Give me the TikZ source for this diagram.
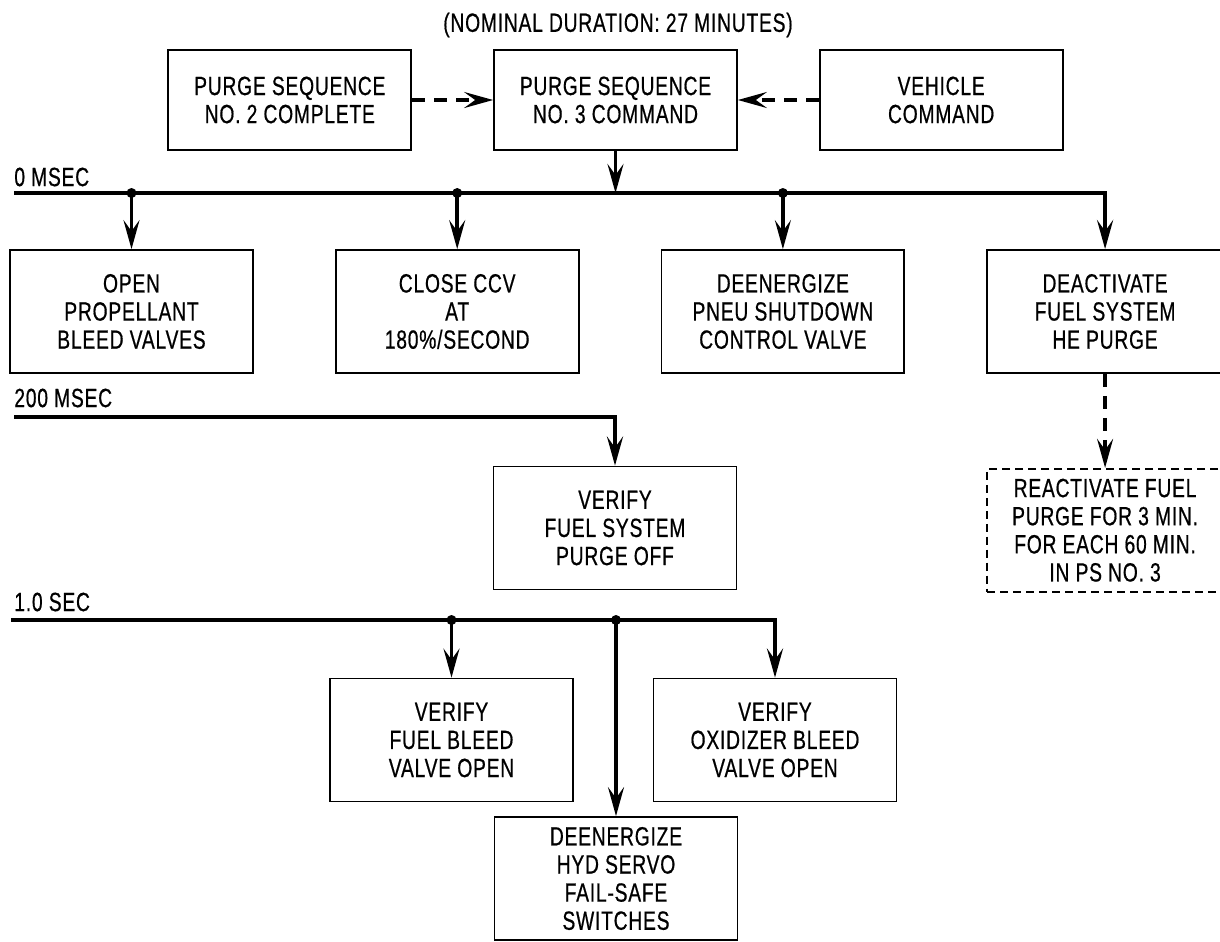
\documentclass[tikz,border=0pt]{standalone}
\usepackage{fontspec}
\setmainfont{Liberation Sans}[FakeStretch=0.73, FakeBold=0.6, LetterSpace=3]
\usepackage{tikz}
\usetikzlibrary{arrows.meta,positioning}

\begin{document}
\begin{tikzpicture}[
            x=0.02cm, y=-0.02cm,
            node distance=1.62cm,
            font=\fontsize{15}{16}\selectfont,
            block/.style={rectangle, draw, line width=1pt, minimum width=4.86cm, minimum height=2.46cm, inner sep=0pt, align=center},
            topblock/.style={block, minimum height=2cm},
            dashblock/.style={block, dash pattern=on 0.16cm off 0.1cm},
            lbl/.style={anchor=west, inner sep=0pt},
            arrow/.style={-{Stealth[length=0.58cm, width=0.32cm, inset=0.22cm]}, line width=2pt},
            bus/.style={arrow, line width=2.4pt},
            dasharrow/.style={arrow, dash pattern=on 0.26cm off 0.18cm},
            dot/.style={fill=black}
        ]
            \useasboundingbox (0,0) rectangle (1220,941);

            \node (title) at (618,25) {(NOMINAL DURATION: 27 MINUTES)};

            \node[topblock] (ps3) at (615.5,100) {PURGE SEQUENCE\\NO. 3 COMMAND};
            \node[topblock, left=of ps3] (ps2) {PURGE SEQUENCE\\NO. 2 COMPLETE};
            \node[topblock, right=of ps3] (veh) {VEHICLE\\COMMAND};

            \node[block] (open) at (131.5,311.5) {OPEN\\PROPELLANT\\BLEED VALVES};
            \node[block, right=of open] (close) {CLOSE CCV\\AT\\180\%/SECOND};
            \node[block, right=of close] (pneu) {DEENERGIZE\\PNEU SHUTDOWN\\CONTROL VALVE};
            \node[block, right=of pneu, minimum width=4.72cm] (deact) {DEACTIVATE\\FUEL SYSTEM\\HE PURGE};
            \node[dashblock, below=1.88cm of deact, minimum width=4.72cm] (react) {REACTIVATE FUEL\\PURGE FOR 3 MIN.\\FOR EACH 60 MIN.\\IN PS NO. 3};

            \node[block] (vfs) at (615,528) {VERIFY\\FUEL SYSTEM\\PURGE OFF};
            \node[block] (vfb) at (451.5,740) {VERIFY\\FUEL BLEED\\VALVE OPEN};
            \node[block] (vox) at (775,740) {VERIFY\\OXIDIZER BLEED\\VALVE OPEN};
            \node[block] (hyd) at (616,878.5) {DEENERGIZE\\HYD SERVO\\FAIL-SAFE\\SWITCHES};

            \node[lbl] (l0) at (14,177) {0 MSEC};
            \node[lbl] (l200) at (14,398) {200 MSEC};
            \node[lbl] (l1s) at (14,602) {1.0 SEC};

            \coordinate (t0) at (14,193);
            \coordinate (t200) at (14,417);
            \coordinate (t1s) at (11,620);
            \coordinate (j1) at (open.north |- t0);
            \coordinate (j2) at (close.north |- t0);
            \coordinate (j3) at (pneu.north |- t0);
            \coordinate (j4) at (vfb.north |- t1s);
            \coordinate (j5) at (hyd.north |- t1s);

            \draw[dasharrow] (ps2) -- (ps3);
            \draw[dasharrow] (veh) -- (ps3);
            \draw[arrow] (ps3) -- (ps3.south |- t0);

            \draw[bus] (t0) -| (deact);
            \draw[arrow] (j1) -- (open);
            \draw[arrow] (j2) -- (close);
            \draw[arrow] (j3) -- (pneu);
            \draw[dasharrow] (deact) -- (react);

            \draw[bus] (t200) -| (vfs);

            \draw[bus] (t1s) -| (vox);
            \draw[arrow] (j4) -- (vfb);
            \draw[arrow] (j5) -- (hyd);

            \foreach \j in {j1,j2,j3,j4,j5}
                \fill[dot] (\j) circle[radius=0.1cm];
        \end{tikzpicture}
\end{document}
